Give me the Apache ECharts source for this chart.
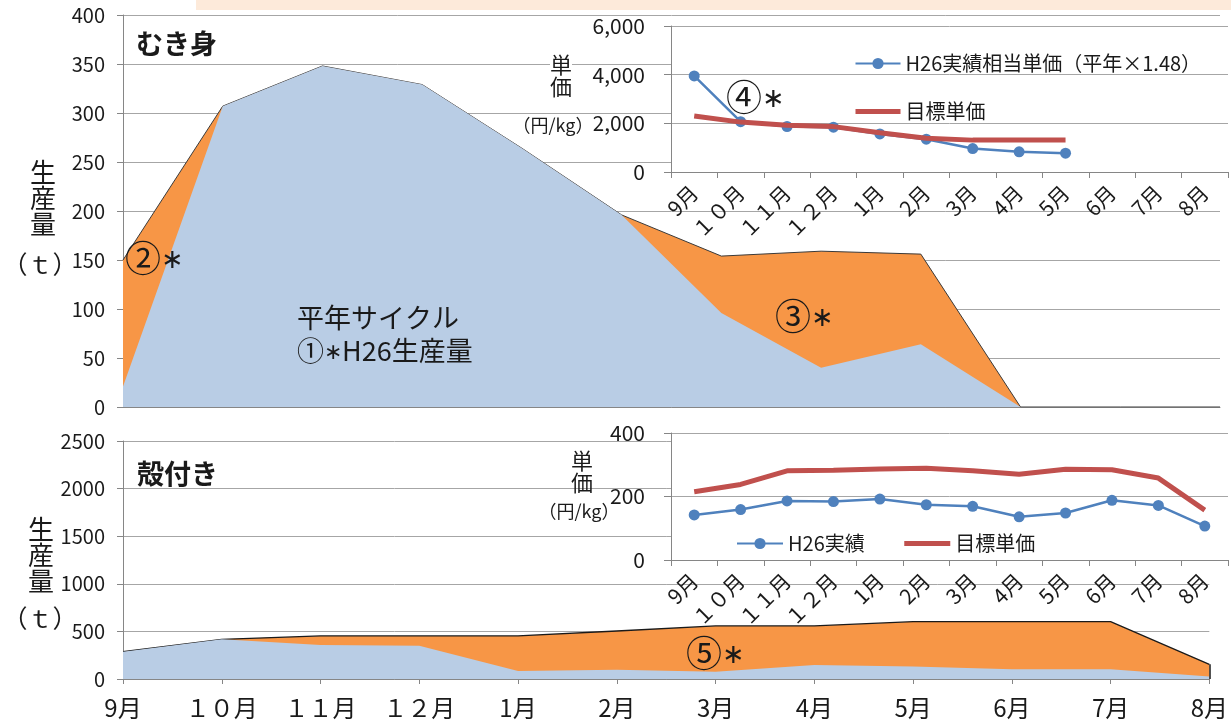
<!DOCTYPE html>
<html>
<head>
<meta charset="utf-8">
<script src="https://cdn.jsdelivr.net/npm/echarts@6/dist/echarts.min.js"></script>
<style>
  html, body { margin: 0; padding: 0; background: #fff; }
  #chart { width: 1231px; height: 726px; }
</style>
</head>
<body>
<div id="chart"></div>
<script>
// Months of the fishing season (Sep → Aug)
const months = ['9月', '１０月', '１１月', '１２月', '1月', '2月', '3月', '4月', '5月', '6月', '7月', '8月'];

// むき身: production (t)
const mukiH26 = [21, 307, 348, 329, 264, 196, 96, 40, 64, 0, 0, 0];
const mukiTotal = [150, 307, 348, 329, 264, 196, 154, 159, 156, 0, 0, 0];
// むき身: unit price (円/kg)
const mukiPriceH26 = [3950, 2070, 1870, 1840, 1565, 1350, 965, 830, 775, null, null, null];
const mukiPriceTarget = [2305, 2050, 1920, 1865, 1610, 1390, 1310, 1310, 1310, null, null, null];

// 殻付き: production (t)
const karaH26 = [287, 417, 357, 350, 84, 98, 77, 147, 130, 102, 102, 25];
const karaTotal = [287, 417, 452, 452, 452, 504, 557, 557, 602, 602, 602, 154];
// 殻付き: unit price (円/kg)
const karaPriceH26 = [142, 159, 186, 184, 192, 174, 169, 136, 148, 188, 172, 107];
const karaPriceTarget = [215, 238, 281, 283, 287, 289, 281, 270, 286, 284, 258, 157];

const FONT = '"Noto Sans CJK JP", "Noto Sans", sans-serif';
const GRID_LINE = '#a6a6a6';
const AXIS_LINE = '#868686';
const TEXT = '#1a1a1a';
const ORANGE = '#F79646';
const LIGHT_BLUE = '#B9CDE5';
const BLUE = '#4F81BD';
const RED = '#C0504D';

const chart = echarts.init(document.getElementById('chart'), null, { renderer: 'canvas' });

function mainY(gridIndex, max, interval) {
  return {
    type: 'value', gridIndex, min: 0, max, interval, z: 0,
    axisLine: { show: true, lineStyle: { color: AXIS_LINE } },
    axisTick: { show: true, length: 6, lineStyle: { color: AXIS_LINE } },
    axisLabel: { fontSize: 20, color: TEXT, margin: 18, fontFamily: FONT, formatter: v => String(v) },
    splitLine: { lineStyle: { color: GRID_LINE } }
  };
}
function insetY(gridIndex, max, interval, fmt) {
  return {
    type: 'value', gridIndex, min: 0, max, interval, z: 4,
    axisLine: { show: true, lineStyle: { color: AXIS_LINE } },
    axisTick: { show: true, length: 7, lineStyle: { color: AXIS_LINE } },
    axisLabel: { fontSize: 21, color: TEXT, margin: 26, fontFamily: FONT, formatter: fmt },
    splitLine: { lineStyle: { color: GRID_LINE } }
  };
}
function insetX(gridIndex) {
  return {
    type: 'category', gridIndex, data: months, boundaryGap: true, z: 4,
    axisLine: { lineStyle: { color: AXIS_LINE } },
    axisTick: { show: true, length: 6, interval: 0, lineStyle: { color: AXIS_LINE } },
    axisLabel: { interval: 0, rotate: 45, fontSize: 21, color: TEXT, margin: 17, fontFamily: FONT }
  };
}
function textEl(text, x, y, size, opts) {
  return Object.assign({
    type: 'text', x, y, z: 50,
    style: Object.assign({
      text, fill: TEXT, align: 'left', verticalAlign: 'middle',
      font: size + 'px ' + FONT
    }, (opts && opts.style) || {})
  }, (opts && opts.el) || {});
}
// Circled note number followed by a smaller asterisk
function noteEl(mark, x, y) {
  return textEl('{n|' + mark + '}{s|∗}', x, y, 36, {
    style: {
      rich: {
        n: { fontSize: 36, fontFamily: FONT, fill: TEXT },
        s: { fontSize: 27, fontFamily: FONT, fill: TEXT }
      }
    }
  });
}
// Target-price legend entries show only the thick line, no marker
const lineOnly = {
  name: '目標単価',
  itemStyle: { color: 'rgba(0,0,0,0)', borderColor: 'rgba(0,0,0,0)', borderWidth: 0, opacity: 0 },
  lineStyle: { color: RED, width: 5, opacity: 1 }
};

const option = {
  animation: false,
  backgroundColor: '#fff',
  textStyle: { fontFamily: FONT },
  grid: [
    { left: 123, right: 11, top: 15, height: 392 },
    { left: 123, right: 13, top: 441, height: 238 },
    { left: 671, right: 3, top: 26, height: 146, show: true, backgroundColor: '#fff', borderWidth: 0, z: 3 },
    { left: 671, right: 3, top: 433, height: 127, show: true, backgroundColor: '#fff', borderWidth: 0, z: 3 }
  ],
  xAxis: [
    {
      type: 'category', gridIndex: 0, data: months, boundaryGap: false,
      axisLine: { lineStyle: { color: AXIS_LINE } },
      axisTick: { show: false }, axisLabel: { show: false }
    },
    {
      type: 'category', gridIndex: 1, data: months, boundaryGap: false,
      axisLine: { lineStyle: { color: AXIS_LINE } },
      axisTick: { show: true, length: 5, lineStyle: { color: AXIS_LINE } },
      axisLabel: { fontSize: 24, color: TEXT, margin: 17, fontFamily: FONT, interval: 0 }
    },
    insetX(2),
    insetX(3)
  ],
  yAxis: [
    mainY(0, 400, 50),
    mainY(1, 2500, 500),
    insetY(2, 6000, 2000, v => v.toLocaleString('en-US')),
    insetY(3, 400, 200, v => String(v))
  ],
  legend: [
    {
      data: ['H26実績相当単価（平年×1.48）', lineOnly],
      orient: 'vertical', left: 848, top: 48, itemWidth: 45, itemHeight: 14, itemGap: 27,
      selectedMode: false, z: 20,
      textStyle: { fontSize: 20, color: TEXT, lineHeight: 21, fontFamily: FONT }
    },
    {
      data: ['H26実績', lineOnly],
      orient: 'horizontal', left: 731, top: 528, itemWidth: 46, itemHeight: 14, itemGap: 37,
      selectedMode: false, z: 20,
      textStyle: { fontSize: 20, color: TEXT, lineHeight: 21, fontFamily: FONT }
    }
  ],
  series: [
    // むき身 production
    {
      name: 'むき身計画', type: 'line', xAxisIndex: 0, yAxisIndex: 0, data: mukiTotal,
      symbol: 'none', z: 2,
      lineStyle: { color: '#3a3a3a', width: 1 },
      areaStyle: { color: ORANGE, opacity: 1 }
    },
    {
      name: 'むき身H26', type: 'line', xAxisIndex: 0, yAxisIndex: 0, data: mukiH26,
      symbol: 'none', z: 3,
      lineStyle: { width: 0, opacity: 0 },
      areaStyle: { color: LIGHT_BLUE, opacity: 1 }
    },
    // 殻付き production
    {
      name: '殻付き計画', type: 'line', xAxisIndex: 1, yAxisIndex: 1, data: karaTotal,
      symbol: 'none', z: 2,
      lineStyle: { color: '#1a1a1a', width: 1.3 },
      areaStyle: { color: ORANGE, opacity: 1 },
      // closing edge of the area at the last month
      markLine: {
        silent: true, symbol: 'none', label: { show: false },
        lineStyle: { color: '#1a1a1a', width: 1.5, type: 'solid' },
        data: [[
          { coord: [months.length - 1, 0] },
          { coord: [months.length - 1, karaTotal[karaTotal.length - 1]] }
        ]]
      }
    },
    {
      name: '殻付きH26', type: 'line', xAxisIndex: 1, yAxisIndex: 1, data: karaH26,
      symbol: 'none', z: 3,
      lineStyle: { width: 0, opacity: 0 },
      areaStyle: { color: LIGHT_BLUE, opacity: 1 }
    },
    // むき身 unit price
    {
      name: 'H26実績相当単価（平年×1.48）', type: 'line', xAxisIndex: 2, yAxisIndex: 2,
      data: mukiPriceH26, z: 6, color: BLUE,
      symbol: 'circle', symbolSize: 11, showSymbol: true,
      lineStyle: { color: BLUE, width: 2.5 }, itemStyle: { color: BLUE }
    },
    {
      name: '目標単価', type: 'line', xAxisIndex: 2, yAxisIndex: 2,
      data: mukiPriceTarget, z: 7, color: RED,
      symbol: 'none',
      lineStyle: { color: RED, width: 5 }
    },
    // 殻付き unit price
    {
      name: 'H26実績', type: 'line', xAxisIndex: 3, yAxisIndex: 3,
      data: karaPriceH26, z: 6, color: BLUE,
      symbol: 'circle', symbolSize: 11, showSymbol: true,
      lineStyle: { color: BLUE, width: 2.5 }, itemStyle: { color: BLUE }
    },
    {
      name: '目標単価', type: 'line', xAxisIndex: 3, yAxisIndex: 3,
      data: karaPriceTarget, z: 7, color: RED,
      symbol: 'none',
      lineStyle: { color: RED, width: 5 }
    }
  ],
  graphic: [
    { type: 'rect', z: 50, shape: { x: 196, y: 0, width: 1035, height: 10 }, style: { fill: '#FDEADA' } },
    textEl('むき身', 136, 44, 27, { style: { font: 'bold 27px ' + FONT } }),
    textEl('殻付き', 137, 474, 27, { style: { font: 'bold 27px ' + FONT } }),
    textEl('生\n産\n量', 43, 198, 26, { style: { align: 'center', lineHeight: 26 } }),
    textEl('（ｔ）', 40, 264, 25, { style: { align: 'center' } }),
    textEl('生\n産\n量', 41, 555, 26, { style: { align: 'center', lineHeight: 26 } }),
    textEl('（ｔ）', 40, 618, 25, { style: { align: 'center' } }),
    textEl('単\n価', 561, 76, 22, { style: { align: 'center', lineHeight: 22, backgroundColor: '#fff' } }),
    textEl('（円/kg）', 553, 125, 18, { style: { align: 'center', backgroundColor: '#fff' } }),
    textEl('単\n価', 582, 472, 22, { style: { align: 'center', lineHeight: 22 } }),
    textEl('（円/kg）', 579, 511, 18, { style: { align: 'center' } }),
    noteEl('②', 125, 258),
    textEl('{t|平年サイクル}\n{t|①}{s|∗}{t|H26生産量}', 297, 334, 27, {
      style: {
        lineHeight: 33,
        rich: {
          t: { fontSize: 27, fontFamily: FONT, fill: TEXT, lineHeight: 33 },
          s: { fontSize: 22, fontFamily: FONT, fill: TEXT, lineHeight: 33 }
        }
      }
    }),
    noteEl('③', 775, 316),
    noteEl('④', 726, 97),
    noteEl('⑤', 686, 653)
  ]
};

chart.setOption(option);
</script>
</body>
</html>
